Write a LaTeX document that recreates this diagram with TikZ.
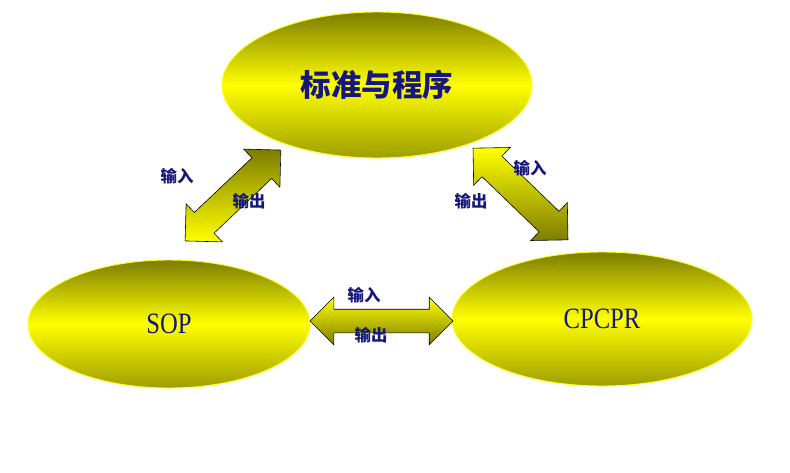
\documentclass[tikz,border=0pt]{standalone}
\usepackage{fontspec}
\setmainfont{Liberation Serif}
\newfontfamily\cjk{Noto Sans CJK SC}
\usetikzlibrary{shapes.geometric,shapes.arrows}
\definecolor{olivedark}{RGB}{125,125,0}
\definecolor{ylw}{RGB}{255,255,0}
\definecolor{navy}{RGB}{22,22,125}
\tikzset{
  oval/.style={ellipse, inner sep=0pt, top color=olivedark, bottom color=olivedark!75!ylw,
    middle color=ylw, draw=ylw!85!white, line width=0.8pt, text=navy},
  dblarrow/.style={double arrow, inner sep=0pt, draw=black, line width=0.5pt,
    double arrow head extend=0.36cm, text height=0.42cm, text depth=0.42cm},
  lbl/.style={text=navy, inner sep=0pt, font=\cjk\bfseries\fontsize{14}{14}\selectfont},
  latin/.style={font=\fontsize{21}{21}\selectfont}
}
\begin{document}
\begin{tikzpicture}[x=0.03cm, y=-0.03cm]
   \useasboundingbox (0, 0) rectangle (790, 472);

   %ovais
   \node[oval, minimum width=9.3cm, minimum height=4.38cm] (std) at (377, 85)
      {\cjk\bfseries\fontsize{26}{26}\selectfont 标准与程序};
   \node[oval, minimum width=8.46cm, minimum height=3.84cm, latin] (sop) at (169, 324)
      {\scalebox{1}[1.2]{SOP}};
   \node[oval, minimum width=9.0cm, minimum height=4.02cm, latin] (cpcpr) at (602, 319)
      {\scalebox{1}[1.2]{CPCPR}};

   %setas
   \node[dblarrow, minimum height=3.96cm, rotate=43.5, top color=olivedark, bottom color=ylw]
      (a1) at (233, 195.5) {};
   \node[dblarrow, minimum height=3.96cm, rotate=-44, top color=ylw, bottom color=olivedark]
      (a2) at (520.5, 194) {};
   \node[dblarrow, minimum height=4.29cm, text height=0.345cm, text depth=0.345cm,
      top color=ylw, bottom color=olivedark] (a3) at (381.5, 321) {};

   %rotulos
   \node[lbl] (in1) at (177, 176) {输入};
   \node[lbl] (out1) at (249, 201) {输出};
   \node[lbl] (in2) at (530, 168) {输入};
   \node[lbl] (out2) at (471, 201) {输出};
   \node[lbl] (in3) at (364, 295) {输入};
   \node[lbl] (out3) at (371, 335) {输出};
\end{tikzpicture}
\end{document}
